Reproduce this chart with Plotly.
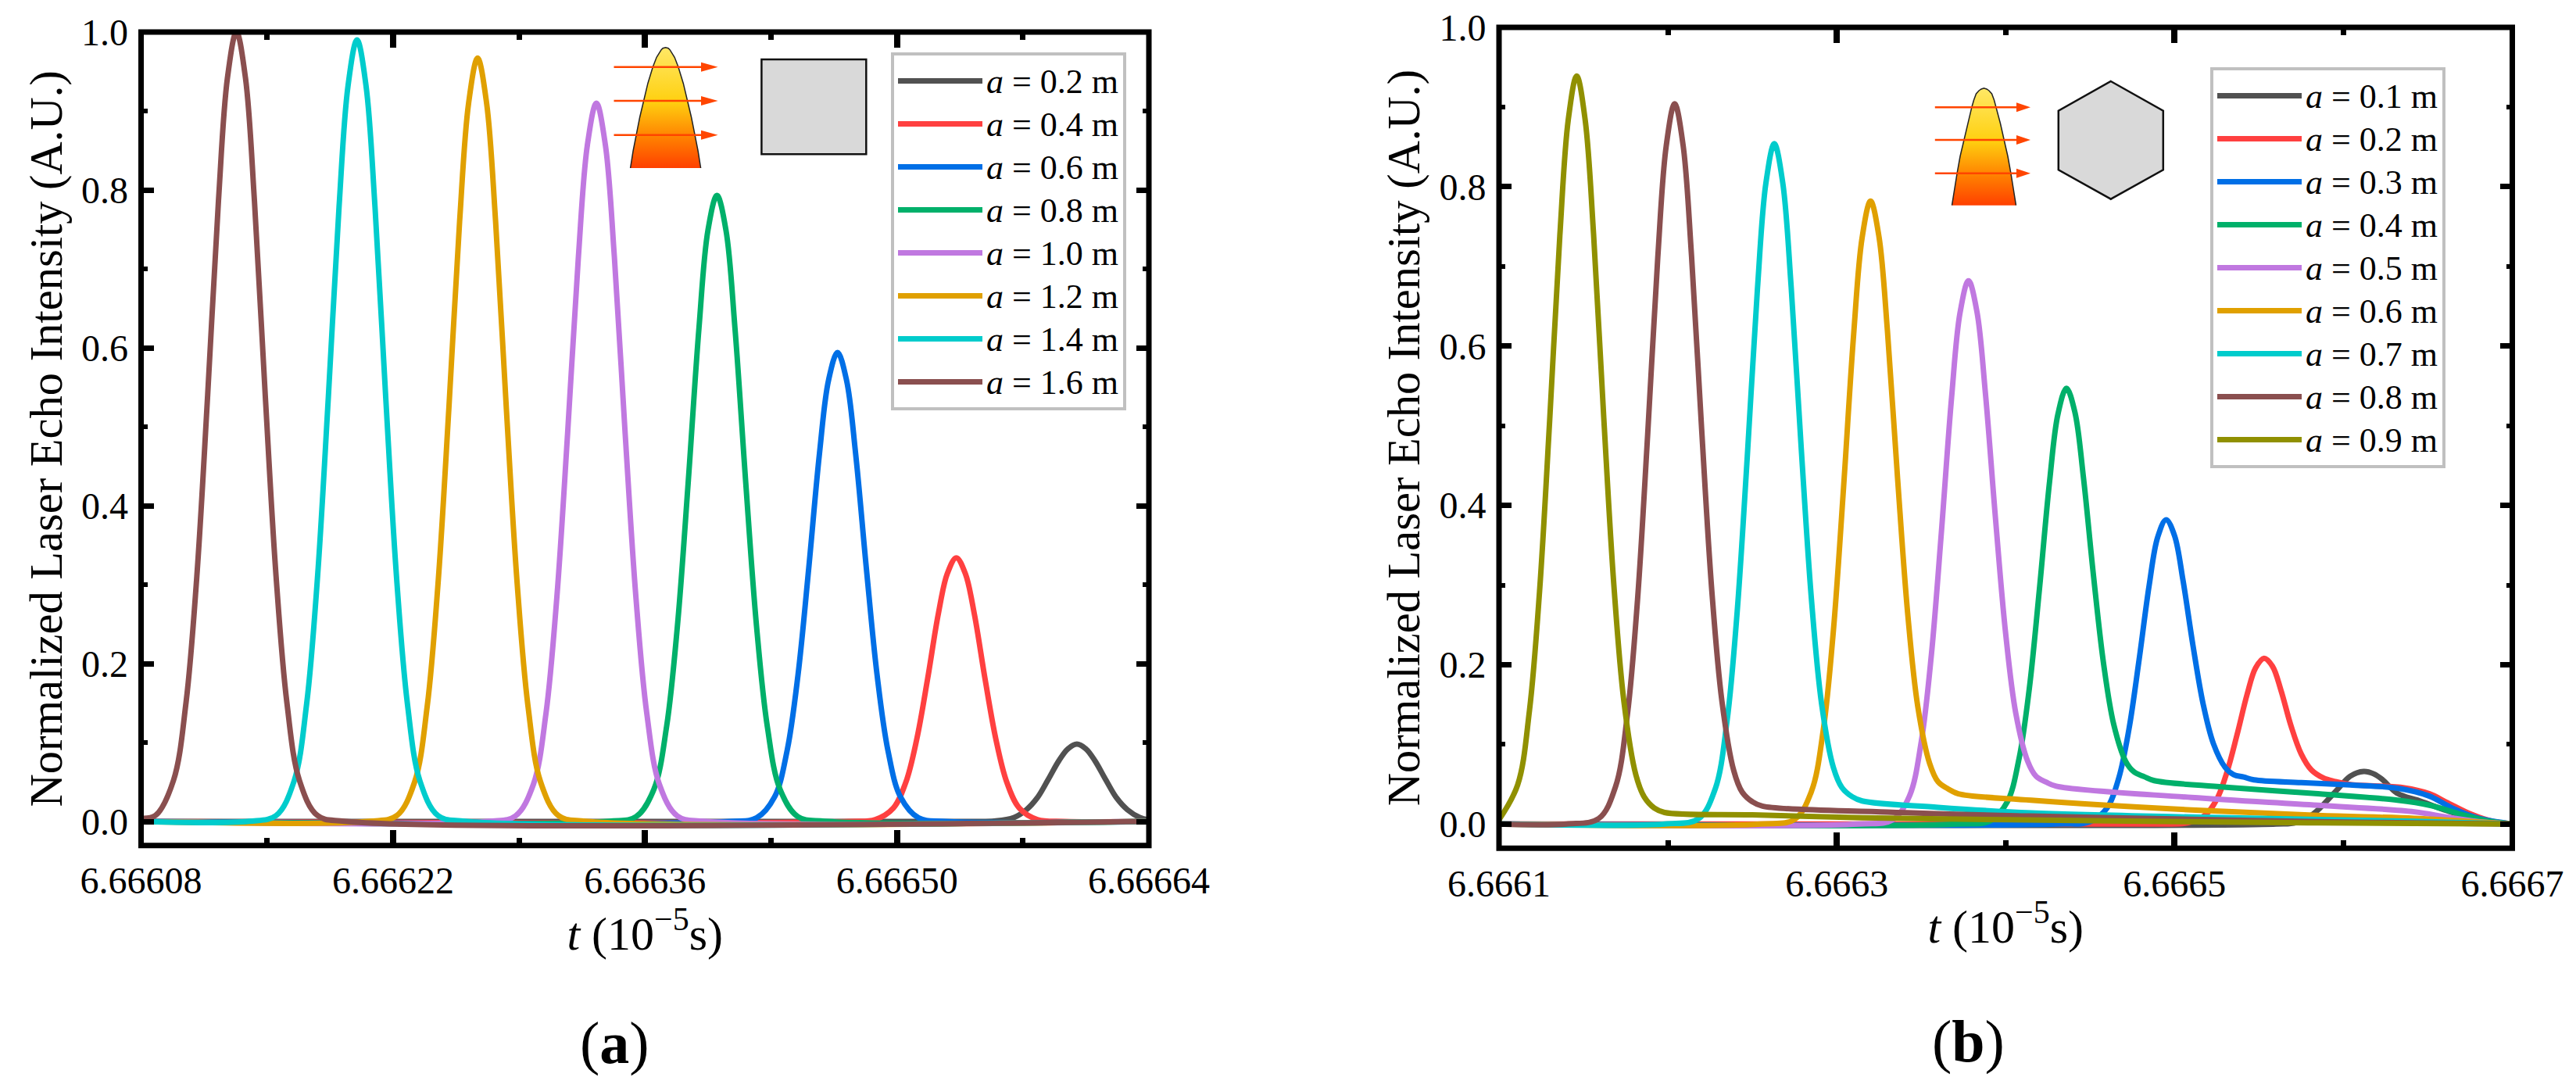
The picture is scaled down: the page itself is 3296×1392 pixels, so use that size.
import plotly.graph_objects as go

W, H = 3296, 1392
PAGE = 8      # the browser page margin round the figure
T0 = 6.666    # t values below are stored as (t - T0) in units of 1e-6

# ---------- panel (a) ----------
names_a = ["0.2", "0.4", "0.6", "0.8", "1.0", "1.2", "1.4", "1.6"]
colors = ["#515151", "#FF4040", "#006FE6", "#00B06A", "#C078E0", "#E0A000", "#00CCCC", "#8A4F4F", "#909000"]

ta_02 = [80, 540, 555, 565, 572, 578, 584, 590, 595, 600, 605, 610, 616, 622, 628, 635, 640]
ya_02 = [0, 0, .0007, .005, .015, .03, .053, .077, .092, .098, .092, .077, .053, .03, .015, .005, .002]
ta_04 = [80, 473, 488, 498, 505, 511, 517, 523, 528, 533, 538, 543, 549, 555, 561, 568, 578, 593, 640]
ya_04 = [0, .0001, .0025, .017, .05, .104, .18, .263, .314, .334, .314, .263, .18, .104, .05, .017, .0025, .0001, 0]
ta_06 = [80, 407, 422, 432, 439, 445, 451, 457, 462, 467, 472, 477, 483, 489, 495, 502, 512, 527, 640]
ya_06 = [0, .0001, .0045, .031, .09, .185, .321, .467, .559, .594, .559, .467, .321, .185, .09, .031, .0045, .0001, 0]
ta_08 = [80, 340, 355, 365, 372, 378, 384, 390, 395, 400, 405, 410, 416, 422, 428, 435, 445, 460, 640]
ya_08 = [0, .0002, .006, .041, .12, .247, .429, .625, .749, .793, .749, .625, .429, .247, .12, .041, .006, .0002, 0]
ta_10 = [80, 273, 288, 298, 305, 311, 317, 323, 328, 333, 338, 343, 349, 355, 361, 368, 378, 393, 640]
ya_10 = [0, .0002, .0069, .047, .137, .283, .491, .715, .857, .91, .857, .715, .491, .283, .137, .047, .0069, .0002, 0]
ta_12 = [80, 207, 222, 232, 239, 245, 251, 257, 262, 267, 272, 277, 283, 289, 295, 302, 312, 327, 640]
ya_12 = [0, .0002, .0073, .05, .146, .301, .522, .76, .91, .967, .91, .76, .522, .301, .146, .05, .0073, .0002, 0]
ta_14 = [80, 140, 155, 165, 172, 178, 184, 190, 195, 200, 205, 210, 216, 222, 228, 235, 245, 260, 640]
ya_14 = [0, .0002, .0075, .051, .149, .308, .535, .778, .932, .99, .932, .778, .535, .308, .149, .051, .0075, .0002, 0]
ta_16 = [80, 88, 98, 105, 111, 117, 123, 128, 133, 138, 143, 149, 155, 161, 168, 178, 193, 640]
ya_16 = [.004, .0076, .052, .151, .311, .54, .786, .942, 1.0, .942, .786, .54, .311, .151, .052, .0076, .0002, 0]

series_a = [(ta_02, ya_02), (ta_04, ya_04), (ta_06, ya_06), (ta_08, ya_08),
            (ta_10, ya_10), (ta_12, ya_12), (ta_14, ya_14), (ta_16, ya_16)]

# ---------- panel (b) ----------
names_b = ["0.1", "0.2", "0.3", "0.4", "0.5", "0.6", "0.7", "0.8", "0.9"]

tb_01 = [100, 560, 572, 582, 595, 604, 612, 618, 623, 632, 646, 661, 676, 700]
yb_01 = [0, 0, .002, .0125, .04, .06, .066, .063, .056, .0385, .0285, .017, .0072, 0]
tb_02 = [100, 488, 508, 518, 525, 531, 537, 543, 548, 553, 558, 563, 569, 575, 581, 588, 595, 604, 636, 651, 661, 676, 689, 700]
yb_02 = [0, .0001, .0016, .011, .031, .065, .112, .163, .196, .208, .198, .168, .123, .088, .068, .058, .0535, .0497, .0455, .038, .0275, .012, .003, 0]
tb_03 = [100, 430, 450, 460, 467, 473, 479, 485, 490, 495, 500, 505, 511, 517, 523, 530, 535, 541, 547, 575, 604, 632, 651, 664, 680, 695, 700]
yb_03 = [0, .0001, .0029, .02, .058, .119, .206, .3, .36, .382, .362, .306, .223, .15, .101, .071, .062, .059, .0555, .052, .049, .045, .035, .0205, .0072, .0016, 0]
tb_04 = [100, 371, 391, 401, 408, 414, 420, 426, 431, 436, 441, 446, 452, 458, 464, 471, 476, 482, 488, 529, 585, 632, 651, 670, 685, 700]
yb_04 = [0, .0001, .0042, .028, .083, .17, .295, .43, .515, .547, .517, .436, .312, .201, .125, .079, .0655, .0595, .0545, .0465, .038, .03, .0236, .012, .004, 0]
tb_05 = [100, 313, 333, 343, 350, 356, 362, 368, 373, 378, 383, 388, 394, 400, 406, 413, 418, 424, 430, 510, 585, 642, 661, 680, 700]
yb_05 = [0, .0001, .0052, .035, .103, .212, .368, .536, .642, .682, .643, .541, .383, .239, .139, .079, .06, .0526, .0475, .0334, .0236, .0154, .0088, .003, 0]
tb_06 = [100, 255, 275, 285, 292, 298, 304, 310, 315, 320, 325, 330, 336, 342, 348, 355, 360, 366, 372, 415, 510, 585, 642, 680, 700]
yb_06 = [0, .0001, .0059, .041, .118, .243, .422, .615, .736, .782, .737, .619, .434, .264, .147, .076, .053, .044, .038, .03, .0177, .0108, .0072, .0025, 0]
tb_07 = [100, 198, 218, 228, 235, 241, 247, 253, 258, 263, 268, 273, 279, 285, 291, 298, 303, 309, 315, 360, 415, 510, 585, 642, 680, 700]
yb_07 = [0, .0001, .0065, .044, .129, .266, .461, .671, .804, .854, .805, .674, .47, .282, .151, .071, .046, .0345, .029, .021, .014, .0088, .0056, .0035, .0012, 0]
tb_08 = [100, 140, 159, 169, 176, 182, 188, 194, 199, 204, 209, 214, 220, 226, 232, 239, 244, 250, 256, 330, 415, 510, 585, 640, 700]
yb_08 = [0, .0001, .0069, .047, .137, .281, .488, .711, .851, .904, .852, .713, .495, .293, .154, .067, .04, .028, .0225, .015, .01, .006, .003, .0015, 0]
tb_09 = [100, 111, 118, 124, 130, 136, 141, 146, 151, 156, 162, 168, 174, 181, 186, 192, 198, 250, 315, 461, 585, 700]
yb_09 = [.0055, .049, .142, .292, .507, .738, .884, .939, .884, .74, .511, .3, .153, .062, .034, .02, .0145, .0115, .008, .004, .0015, 0]

series_b = [(tb_01, yb_01), (tb_02, yb_02), (tb_03, yb_03), (tb_04, yb_04), (tb_05, yb_05),
            (tb_06, yb_06), (tb_07, yb_07), (tb_08, yb_08), (tb_09, yb_09)]

xticks_a = [6.66608, 6.66622, 6.66636, 6.66650, 6.66664]
xminor_a = [6.66615, 6.66629, 6.66643, 6.66657]
xticks_b = [6.6661, 6.6663, 6.6665, 6.6667]
xminor_b = [6.6662, 6.6664, 6.6666]
yticks = [0.0, 0.2, 0.4, 0.6, 0.8, 1.0]
yminor = [0.1, 0.3, 0.5, 0.7, 0.9]

FONT = "Liberation Serif"
TICK_SIZE = 48
GRAD = [[0, "#FFE866"], [0.45, "#FFD010"], [0.75, "#FF8000"], [1, "#FF4000"]]
ARROW = "#FF4500"
GREY = "#D9D9D9"
TICK_COL = "black"

FRAME_A = (180.5, 1470, 41, 1081.7)
FRAME_B = (1918, 3214.5, 35, 1085.3)


def fx(p):
    return (p - PAGE) / (W - PAGE)


def fy(p):
    return 1 - (p - PAGE) / (H - PAGE)


def ts(vals):
    return [T0 + v * 1e-6 for v in vals]


def label(n):
    return f'<span style="font-size:44px"><i>a</i> = {n} m</span>'


fig = go.Figure()

for i, (t, y) in enumerate(series_a):
    fig.add_trace(go.Scatter(x=ts(t), y=y, mode="lines", name=label(names_a[i]), xaxis="x", yaxis="y",
                             legend="legend", cliponaxis=False,
                             line=dict(color=colors[i], width=7, shape="spline", smoothing=1.0)))
for i, (t, y) in enumerate(series_b):
    fig.add_trace(go.Scatter(x=ts(t), y=y, mode="lines", name=label(names_b[i]), xaxis="x2", yaxis="y2",
                             legend="legend2", cliponaxis=False,
                             line=dict(color=colors[i], width=7, shape="spline", smoothing=1.0)))

# ---------- inset pictograms, on a hidden overlay axis pair in page pixels ----------
beam_a_x = [806.6, 810.1, 814.1, 818.6, 823.6, 828.9, 835.3, 840.1, 846.1, 848.1, 851.6, 855.1, 857.1, 863.1, 867.9, 874.3, 879.6, 884.6, 889.1, 893.1, 896.6]
beam_a_y = [215, 193, 172.7, 150, 129, 106.7, 85.7, 73.3, 63.7, 61.7, 60.7, 61.7, 63.7, 73.3, 85.7, 106.7, 129, 150, 172.7, 193, 215]
beam_b_x = [2497.5, 2500.5, 2504.1, 2508, 2512.8, 2517.5, 2523, 2525.5, 2528.5, 2532, 2535, 2538.5, 2542, 2545, 2548.5, 2551.5, 2554, 2559.5, 2564.2, 2569, 2572.9, 2576.5, 2579.5]
beam_b_y = [262.7, 242, 221.7, 200, 179, 158, 136.7, 128, 120, 116, 114, 112.7, 114, 116, 120, 128, 136.7, 158, 179, 200, 221.7, 242, 262.7]
for bx, by in ((beam_a_x, beam_a_y), (beam_b_x, beam_b_y)):
    fig.add_trace(go.Scatter(x=bx, y=by, mode="lines", fill="toself", showlegend=False, xaxis="x3", yaxis="y3",
                             line=dict(width=0, color="rgba(0,0,0,0)"),
                             fillgradient=dict(type="vertical", colorscale=GRAD, start=min(by), stop=max(by))))
    fig.add_trace(go.Scatter(x=bx, y=by, mode="lines", showlegend=False, xaxis="x3", yaxis="y3",
                             line=dict(width=1.5, color="#222222")))

shapes = [
    dict(type="rect", xref="x3", yref="y3", x0=974.4, x1=1108.3, y0=76, y1=197.3,
         fillcolor=GREY, line=dict(color="#111111", width=2.5)),
    dict(type="path", xref="x3", yref="y3",
         path="M2700.8,104 L2767.8,141.7 L2767.8,217.3 L2700.8,254.7 L2633.8,217.3 L2633.8,141.7 Z",
         fillcolor=GREY, line=dict(color="#111111", width=2.5)),
]
for x0, x1, xt, ys in ((785.5, 897, 918.6, (85.7, 129, 172.7)), (2475.8, 2580, 2598, (137.3, 179, 221.7))):
    for yy in ys:
        shapes.append(dict(type="line", xref="x3", yref="y3", x0=x0, x1=x1, y0=yy, y1=yy,
                           line=dict(color=ARROW, width=2.5)))
        shapes.append(dict(type="path", xref="x3", yref="y3",
                           path=f"M{x1},{yy-6} L{xt},{yy} L{x1},{yy+6} Z",
                           fillcolor=ARROW, line=dict(width=0)))
# axis frames
for f in (FRAME_A, FRAME_B):
    shapes.append(dict(type="rect", xref="x3", yref="y3", x0=f[0], x1=f[1], y0=f[2], y1=f[3],
                       line=dict(color="black", width=7), fillcolor="rgba(0,0,0,0)", layer="above"))


def x_axis(anchor, frame, rng, vals, minor, fmt):
    return dict(domain=[fx(frame[0]), fx(frame[1])], anchor=anchor, range=rng, tickmode="array", tickvals=vals,
                ticktext=[fmt.format(v) for v in vals], automargin=False,
                ticks="inside", ticklen=20, tickwidth=8, tickcolor=TICK_COL,
                minor=dict(tickmode="array", tickvals=minor, ticks="inside", ticklen=10, tickwidth=7, tickcolor=TICK_COL),
                showline=True, linewidth=1, linecolor="black", mirror="allticks", showgrid=False, zeroline=False,
                tickfont=dict(family=FONT, size=TICK_SIZE, color="black"), ticklabelstandoff=3,
                title=dict(text="<i>t</i> (10<sup>−5</sup>s)", font=dict(family=FONT, size=60, color="black"), standoff=8))


def x_bottom_ticks(anchor, over, frame, rng, vals, minor):
    # second x axis on the same place: repeats the tick marks along the bottom edge
    return dict(domain=[fx(frame[0]), fx(frame[1])], anchor=anchor, overlaying=over, side="bottom", range=rng,
                tickmode="array", tickvals=vals, showticklabels=False, automargin=False,
                ticks="inside", ticklen=20, tickwidth=8, tickcolor=TICK_COL,
                minor=dict(tickmode="array", tickvals=minor, ticks="inside", ticklen=10, tickwidth=7, tickcolor=TICK_COL),
                showline=False, showgrid=False, zeroline=False)


def y_axis(anchor, frame, rng):
    return dict(domain=[fy(frame[3]), fy(frame[2])], anchor=anchor, range=rng, tickmode="array", tickvals=yticks,
                ticktext=[f"{v:.1f}" for v in yticks], automargin=False,
                ticks="inside", ticklen=16, tickwidth=6.5, tickcolor=TICK_COL,
                minor=dict(tickmode="array", tickvals=yminor, ticks="inside", ticklen=8, tickwidth=5.5, tickcolor=TICK_COL),
                showline=True, linewidth=1, linecolor="black", mirror="allticks", showgrid=False, zeroline=False,
                tickfont=dict(family=FONT, size=TICK_SIZE, color="black"), ticklabelstandoff=6,
                title=dict(text="Normalized Laser Echo Intensity (A.U.)",
                           font=dict(family=FONT, size=58.5, color="black"), standoff=5))


legend_common = dict(font=dict(family=FONT, size=40, color="black"), bgcolor="white", bordercolor="#C0C0C0",
                     borderwidth=4, itemwidth=108, xanchor="left", yanchor="top", tracegroupgap=0,
                     itemclick=False, itemdoubleclick=False)

RANGE_A = [6.66608, 6.66664]
RANGE_B = [6.6661, 6.6667]

fig.update_layout(
    width=W - PAGE, height=H - PAGE, margin=dict(l=0, r=0, t=0, b=0, autoexpand=False), paper_bgcolor="white",
    plot_bgcolor="rgba(0,0,0,0)", autosize=False, font=dict(family=FONT, color="black"),
    xaxis=x_axis("y", FRAME_A, RANGE_A, xticks_a, xminor_a, "{:.5f}"),
    yaxis=y_axis("x", FRAME_A, [-0.0304, 1.0]),
    xaxis2=x_axis("y2", FRAME_B, RANGE_B, xticks_b, xminor_b, "{:.4f}"),
    yaxis2=y_axis("x2", FRAME_B, [-0.0304, 1.0]),
    xaxis3=dict(domain=[0, 1], range=[PAGE, W], visible=False, anchor="y3", automargin=False),
    yaxis3=dict(domain=[0, 1], range=[H, PAGE], visible=False, anchor="x3", automargin=False),
    xaxis4=x_bottom_ticks("y", "x", FRAME_A, RANGE_A, xticks_a, xminor_a),
    xaxis5=x_bottom_ticks("y2", "x2", FRAME_B, RANGE_B, xticks_b, xminor_b),
    legend=dict(x=fx(1140), y=fy(67), **legend_common),
    legend2=dict(x=fx(2828), y=fy(86), **legend_common),
    shapes=shapes,
    annotations=[
        dict(text="(<b>a</b>)", xref="paper", yref="paper", x=fx(786), y=fy(1334), showarrow=False,
             xanchor="center", yanchor="middle", font=dict(family=FONT, size=76, color="black")),
        dict(text="(<b>b</b>)", xref="paper", yref="paper", x=fx(2518), y=fy(1332), showarrow=False,
             xanchor="center", yanchor="middle", font=dict(family=FONT, size=76, color="black")),
    ],
)

fig.write_html("out.html", config=dict(displayModeBar=False))
